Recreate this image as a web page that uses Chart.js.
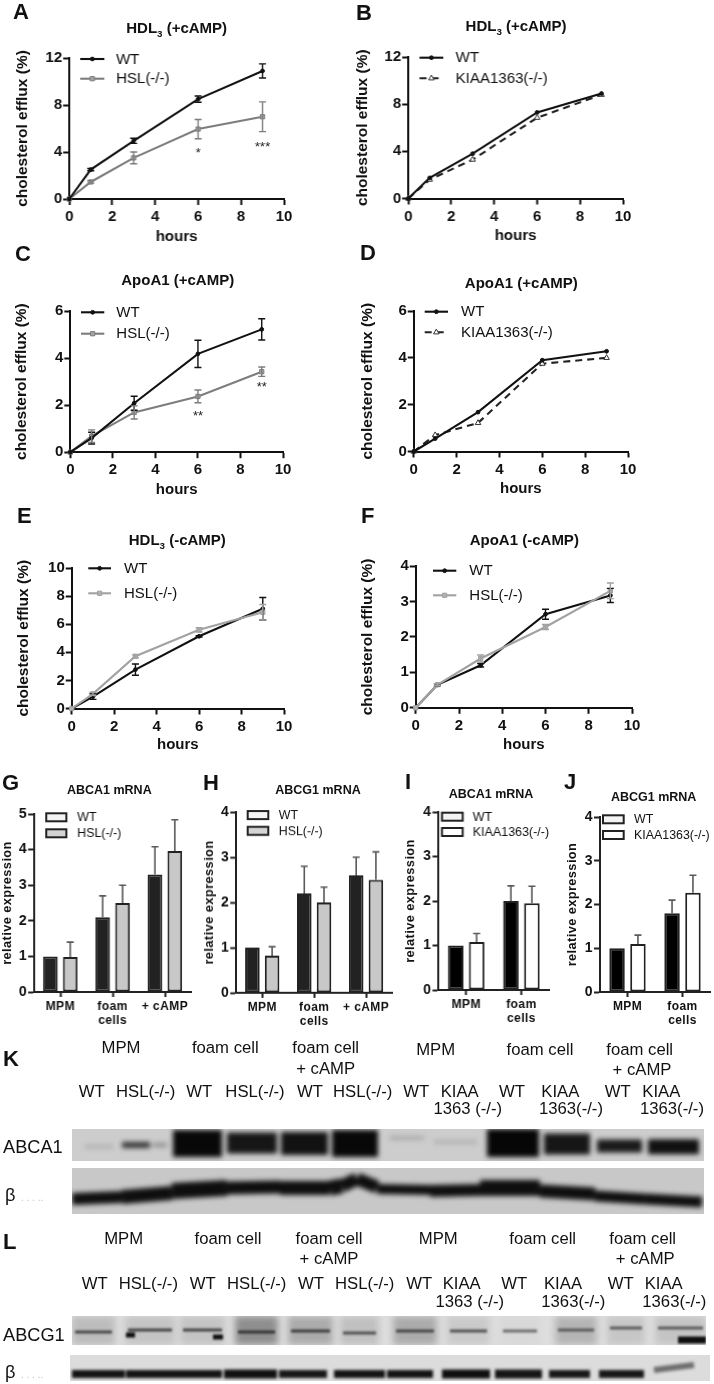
<!DOCTYPE html>
<html lang="en">
<head>
<meta charset="UTF-8">
<title>Cholesterol efflux panels</title>
<style>
  html, body { margin: 0; padding: 0; background: #fff; }
  #page { position: relative; width: 714px; height: 1384px; overflow: hidden; filter: blur(0.4px); font-family: "Liberation Sans", Arial, sans-serif; color: #111; }
  #page canvas { position: absolute; }
  .lbl { position: absolute; white-space: nowrap; transform: translate(-50%, -50%); line-height: 1; }
  .lbl.left { transform: translate(0, -50%); }
  .gel { position: absolute; overflow: hidden; }
  sub { font-size: 65%; line-height: 0; }
</style>
</head>
<body>
<div id="page"></div>
<script src="https://cdn.jsdelivr.net/npm/chart.js"></script>
<script>
var hours = [0, 1, 3, 6, 9];

// line panels
var aWT = [0, 2.5, 4.95, 8.5, 10.9],   aWTerr = [0, 0.1, 0.22, 0.27, 0.6];
var aHSL = [0, 1.45, 3.5, 5.95, 7.0],  aHSLerr = [0, 0.1, 0.5, 0.82, 1.27];
var bWT = [0, 1.75, 3.8, 7.3, 8.9];
var bKIAA = [0, 1.6, 3.3, 6.85, 8.8];
var cWT = [0, 0.6, 2.08, 4.18, 5.22],  cWTerr = [0, 0.25, 0.3, 0.58, 0.45];
var cHSL = [0, 0.68, 1.69, 2.37, 3.42], cHSLerr = [0, 0.27, 0.28, 0.27, 0.2];
var dWT = [0, 0.55, 1.68, 3.9, 4.28];
var dKIAA = [0, 0.7, 1.22, 3.75, 4.0];
var eWT = [0, 0.85, 2.77, 5.14, 7.1],  eWTerr = [0, 0.2, 0.4, 0.05, 0.8];
var eHSL = [0, 1.04, 3.72, 5.6, 6.85], eHSLerr = [0, 0.1, 0.1, 0.15, 0.55];
var fWT = [0, 0.65, 1.2, 2.64, 3.17],  fWTerr = [0, 0.03, 0.05, 0.14, 0.2];
var fHSL = [0, 0.65, 1.39, 2.28, 3.3], fHSLerr = [0, 0.03, 0.1, 0.07, 0.22];

// significance marks: [hours, efflux, text]
var aStars = [[6, 3.85, '*'], [9, 4.35, '***']];
var cStars = [[6, 1.5, '**'], [9, 2.77, '**']];

// bar panels
var cats3 = ['MPM', ['foam', 'cells'], '+ cAMP'];
var cats2 = ['MPM', ['foam', 'cells']];
var gWT = [1.0, 2.1, 3.3],   gWTerr = [0, 0.6, 0.78];
var gHSL = [0.98, 2.5, 3.96], gHSLerr = [0.42, 0.5, 0.88];
var hWT = [1.0, 2.2, 2.6],   hWTerr = [0, 0.6, 0.4];
var hHSL = [0.82, 2.0, 2.5], hHSLerr = [0.2, 0.34, 0.62];
var iWT = [1.0, 2.0],        iWTerr = [0, 0.34];
var iKIAA = [1.08, 1.95],    iKIAAerr = [0.19, 0.38];
var jWT = [1.0, 1.8],        jWTerr = [0, 0.3];
var jKIAA = [1.1, 2.27],     jKIAAerr = [0.2, 0.4];

// blots, each band: start, end, height at start, height at end, thickness, grey level
var kAbca1Start = [13, 50, 81, 101, 155, 209, 260, 318, 362, 415, 472, 525, 576];
var kAbca1End   = [41, 78, 95, 150, 205, 256, 306, 352, 405, 467, 518, 570, 627];
var kAbca1Pos   = [17.7, 16, 16, 14.5, 14, 14.5, 14.5, 9, 13, 14, 15, 17, 17.7];
var kAbca1Thick = [3, 6, 4, 27, 21, 23, 27, 3, 3, 28, 21, 13, 15];
var kAbca1Grey  = [168, 50, 140, 8, 22, 18, 8, 160, 170, 6, 22, 26, 16];

var kBetaStart = [0, 50, 100, 155, 208, 258, 270, 285, 305, 358, 408, 468, 523, 573];
var kBetaEnd   = [50, 100, 155, 208, 258, 270, 285, 305, 358, 408, 468, 523, 573, 630];
var kBetaFrom  = [31, 29, 23, 20, 20, 20, 18, 11, 21, 23, 20, 23, 28, 31];
var kBetaTo    = [29, 25, 20, 19, 20, 18, 11, 19, 22, 22, 20, 26, 31, 34];
var kBetaThick = [12, 14, 16, 13, 14, 15, 13, 13, 10, 12, 16, 13, 11, 11];

var lAbcg1LaneStart = [0, 53, 108, 163, 216, 268, 321, 375, 428, 483, 535, 583];
var lAbcg1LaneEnd   = [43, 103, 153, 206, 261, 307, 365, 418, 468, 525, 573, 634];
var lAbcg1LaneGrey  = [188, 196, 196, 142, 171, 192, 171, 202, 216, 180, 198, 196];
var lAbcg1Pos       = [16, 14, 14, 16, 15, 17, 15, 15, 15, 14, 12, 12];
var lAbcg1BandGrey  = [70, 68, 68, 50, 60, 80, 70, 80, 110, 90, 90, 90];
var lSpotStart = [54, 141, 606];
var lSpotEnd   = [63, 151, 634];
var lSpotPos   = [19, 21, 24];
var lSpotThick = [5, 5, 7];

var lBetaStart = [2, 56, 104, 154, 209, 264, 317, 372, 425, 479, 529, 584];
var lBetaEnd   = [55, 105, 152, 207, 257, 315, 363, 420, 472, 520, 574, 624];
var lBetaFrom  = [19, 19, 19, 19, 19, 19, 19, 19, 19, 19, 19, 15];
var lBetaTo    = [19, 19, 19, 19, 19, 19, 19, 19, 19, 19, 19, 10];
var lBetaThick = [8, 8, 8, 9, 8, 8, 8, 9, 9, 8, 8, 6];
var lBetaGrey  = [20, 20, 20, 16, 24, 20, 20, 14, 20, 24, 24, 110];

var page = document.getElementById('page');
var FONT = '"Liberation Sans", Arial, sans-serif';
Chart.defaults.font.family = FONT;
Chart.defaults.color = '#111';

function label(html, x, y, size, bold, left, color) {
    var d = document.createElement('div');
    d.className = left ? 'lbl left' : 'lbl';
    d.innerHTML = html;
    d.style.left = x + 'px';
    d.style.top = y + 'px';
    d.style.fontSize = size + 'px';
    if (bold) d.style.fontWeight = 'bold';
    if (color) d.style.color = color;
    page.appendChild(d);
}

function addCanvas(x, y, w, h, parent) {
    var c = document.createElement('canvas');
    c.width = w;
    c.height = h;
    c.style.left = x + 'px';
    c.style.top = y + 'px';
    c.style.width = w + 'px';
    c.style.height = h + 'px';
    (parent || page).appendChild(c);
    return c;
}

// error bars: lines go both ways, bars only up
var errBars = {
    id: 'errBars',
    afterDatasetsDraw: function (chart) {
        var ctx = chart.ctx;
        var yScale = chart.scales.y;
        chart.data.datasets.forEach(function (ds, k) {
            if (!ds.errs) return;
            var meta = chart.getDatasetMeta(k);
            var isBar = chart.config.type === 'bar';
            ctx.save();
            ctx.strokeStyle = isBar ? '#5a5a5a' : ds.borderColor;
            ctx.lineWidth = isBar ? 1.6 : 1.4;
            ds.errs.forEach(function (e, i) {
                if (!e) return;
                var v = isBar ? ds.data[i] : ds.data[i].y;
                var px = meta.data[i].x;
                var top = yScale.getPixelForValue(v + e);
                var bot = isBar ? yScale.getPixelForValue(v) : yScale.getPixelForValue(v - e);
                ctx.beginPath();
                ctx.moveTo(px, top);
                ctx.lineTo(px, bot);
                ctx.moveTo(px - 3.5, top);
                ctx.lineTo(px + 3.5, top);
                if (!isBar) {
                    ctx.moveTo(px - 3.5, bot);
                    ctx.lineTo(px + 3.5, bot);
                }
                ctx.stroke();
            });
            ctx.restore();
        });
    }
};

var legendBox = {
    id: 'legendBox',
    afterDraw: function (chart) {
        var lg = chart.options.plugins.legendBox;
        if (!lg || !lg.x0) return;
        var ctx = chart.ctx;
        var ox = chart.canvas.offsetLeft, oy = chart.canvas.offsetTop;
        ctx.save();
        ctx.letterSpacing = '0px';
        lg.names.forEach(function (name, i) {
            var y = lg.ys[i] - oy;
            var x0 = lg.x0 - ox, x1 = lg.x1 - ox;
            var ds = chart.data.datasets[i];
            if (lg.box) {
                ctx.fillStyle = lg.fills[i];
                ctx.strokeStyle = '#222';
                ctx.lineWidth = 2;
                ctx.fillRect(x0, y - 4, x1 - x0, 8);
                ctx.strokeRect(x0, y - 4, x1 - x0, 8);
            } else {
                ctx.strokeStyle = ds.borderColor;
                ctx.lineWidth = ds.borderWidth;
                ctx.setLineDash(ds.borderDash || []);
                ctx.beginPath();
                ctx.moveTo(x0, y);
                ctx.lineTo(x1, y);
                ctx.stroke();
                ctx.setLineDash([]);
                ctx.fillStyle = ds.pointBackgroundColor;
                ctx.strokeStyle = ds.pointBorderColor;
                ctx.lineWidth = ds.pointBorderWidth;
                Chart.helpers.drawPoint(ctx, { pointStyle: ds.pointStyle, radius: ds.pointRadius, borderWidth: ds.pointBorderWidth, rotation: 0 }, (x0 + x1) / 2, y);
            }
            ctx.fillStyle = '#111';
            ctx.font = lg.size + 'px ' + FONT;
            ctx.textBaseline = 'middle';
            ctx.textAlign = 'left';
            ctx.fillText(name, lg.tx - ox, y + 0.5);
        });
        ctx.restore();
    }
};

var starMarks = {
    id: 'starMarks',
    afterDatasetsDraw: function (chart) {
        var st = chart.options.plugins.starMarks;
        if (!st || !st.marks) return;
        var ctx = chart.ctx;
        ctx.save();
        ctx.fillStyle = '#222';
        ctx.font = '13px ' + FONT;
        ctx.textAlign = 'center';
        ctx.textBaseline = 'middle';
        st.marks.forEach(function (m) {
            ctx.fillText(m[2], chart.scales.x.getPixelForValue(m[0]), chart.scales.y.getPixelForValue(m[1]));
        });
        ctx.restore();
    }
};

// bar panel text is set a bit wider in the reference
var spaced = {
    id: 'spaced',
    beforeDraw: function (chart) { chart.ctx.letterSpacing = '0.4px'; }
};

function frame(p, rect) {
    return {
        left: function (s) { s.width = p.l - rect.x; },
        bottom: function (s) { s.height = rect.y + rect.h - p.b; },
        padding: { top: p.t - rect.y, right: rect.x + rect.w - p.r, left: 0, bottom: 0 }
    };
}

function pts(ys) {
    return ys.map(function (v, i) { return { x: hours[i], y: v }; });
}

var styles = {
    wt:    { color: '#111', pointStyle: 'circle', radius: 1.9, fill: '#111', edge: '#111' },
    hsl:   { color: '#7d7d7d', pointStyle: 'rect', radius: 3, fill: '#a4a4a4', edge: '#7d7d7d' },
    hslL:  { color: '#a2a2a2', pointStyle: 'rect', radius: 3, fill: '#b0b0b0', edge: '#a2a2a2' },
    kiaa:  { color: '#222', pointStyle: 'triangle', radius: 3.2, fill: '#fff', edge: '#333', dash: [7, 5] }
};

function lineSet(name, ys, errs, st, order) {
    return {
        label: name, data: pts(ys), errs: errs,
        borderColor: st.color, borderWidth: 2.1, borderDash: st.dash, tension: 0,
        pointStyle: st.pointStyle, pointRadius: st.radius,
        pointBackgroundColor: st.fill, pointBorderColor: st.edge, pointBorderWidth: 1,
        clip: false, order: order
    };
}

function linePanel(o) {
    var rect = { x: o.ty - 7.75, y: o.p.t - 14, w: o.p.r + 16 - (o.ty - 7.75), h: o.tx + 7.5 - (o.p.t - 14) };
    var f = frame(o.p, rect);
    var c = addCanvas(rect.x, rect.y, rect.w, rect.h);
    return new Chart(c, {
        type: 'line',
        data: { datasets: o.sets },
        plugins: [errBars, legendBox, starMarks],
        options: {
            responsive: false, animation: false, devicePixelRatio: 1,
            layout: { padding: f.padding },
            plugins: {
                legend: { display: false }, tooltip: { enabled: false },
                legendBox: o.legend,
                starMarks: { marks: o.stars }
            },
            scales: {
                x: {
                    type: 'linear', min: 0, max: 10, afterFit: f.bottom,
                    ticks: { stepSize: 2, padding: 3, maxRotation: 0, font: { size: 15, weight: 'bold' } },
                    grid: { drawOnChartArea: false, tickLength: 6, tickWidth: 2, tickColor: '#111' },
                    border: { color: '#111', width: 2 },
                    title: { display: true, text: 'hours', padding: 0, font: { size: 15, weight: 'bold', lineHeight: 1 } }
                },
                y: {
                    min: 0, max: o.ymax, afterFit: f.left,
                    ticks: { stepSize: o.step, padding: 1, font: { size: 15, weight: 'bold' } },
                    grid: { drawOnChartArea: false, tickLength: 6, tickWidth: 2, tickColor: '#111' },
                    border: { color: '#111', width: 2 },
                    title: { display: true, text: 'cholesterol efflux (%)', padding: 0, font: { size: 15.5, weight: 'bold', lineHeight: 1 } }
                }
            }
        }
    });
}

function barPanel(o) {
    var rect = { x: o.ty - 7, y: o.p.t - 12, w: o.p.r + 4 - (o.ty - 7), h: o.p.b + 48 - (o.p.t - 12) };
    var f = frame(o.p, rect);
    var c = addCanvas(rect.x, rect.y, rect.w, rect.h);
    var mk = function (name, vals, errs, fill) {
        return { label: name, data: vals, errs: errs, backgroundColor: fill, borderColor: '#222', borderWidth: 2, borderSkipped: false, categoryPercentage: 0.76, barPercentage: 0.74 };
    };
    return new Chart(c, {
        type: 'bar',
        data: { labels: o.cats, datasets: [mk(o.names[0], o.a, o.aErr, o.fills[0]), mk(o.names[1], o.b, o.bErr, o.fills[1])] },
        plugins: [spaced, errBars, legendBox],
        options: {
            responsive: false, animation: false, devicePixelRatio: 1,
            layout: { padding: f.padding },
            plugins: {
                legend: { display: false }, tooltip: { enabled: false },
                legendBox: { box: true, names: o.names, fills: ['#f4f4f4', o.fills[1] === '#fff' ? '#fff' : '#d4d4d4'], x0: o.lg[0], x1: o.lg[1], ys: [o.lg[2], o.lg[3]], tx: o.lg[4], size: 12.4 }
            },
            scales: {
                x: {
                    afterFit: f.bottom,
                    ticks: { padding: 3, maxRotation: 0, autoSkip: false, font: { size: 12, weight: 'bold', lineHeight: 1.16 } },
                    grid: { offset: false, drawOnChartArea: false, tickLength: 5, tickWidth: 2, tickColor: '#222' },
                    border: { color: '#222', width: 2 }
                },
                y: {
                    min: 0, max: o.ymax, afterFit: f.left,
                    ticks: { stepSize: 1, padding: 1, font: { size: 14, weight: 'bold' } },
                    grid: { drawOnChartArea: false, tickLength: 6, tickWidth: 2, tickColor: '#222' },
                    border: { color: '#222', width: 2 },
                    title: { display: true, text: 'relative expression', padding: 0, font: { size: 12.8, weight: 'bold', lineHeight: 1 } }
                }
            }
        }
    });
}

function grey(n) { return 'rgb(' + n + ',' + n + ',' + n + ')'; }

function bandSet(start, end, from, to, thick, shade) {
    return {
        data: [{ x: start, y: from }, { x: end, y: to }],
        borderWidth: thick, borderColor: grey(shade), borderCapStyle: 'butt',
        pointRadius: 0, tension: 0
    };
}

function gelLayer(parent, w, h, blur, sets) {
    var c = addCanvas(0, 0, w, h, parent);
    c.style.filter = 'blur(' + blur + 'px)';
    sets.forEach(function (s, i) { s.order = sets.length - i; });
    new Chart(c, {
        type: 'line',
        data: { datasets: sets },
        options: {
            responsive: false, animation: false, devicePixelRatio: 1,
            plugins: { legend: { display: false }, tooltip: { enabled: false } },
            layout: { padding: 0 },
            scales: {
                x: { type: 'linear', min: 0, max: w, display: false },
                y: { min: 0, max: h, reverse: true, display: false }
            }
        }
    });
}

function gelBox(x, y, w, h, bg) {
    var d = document.createElement('div');
    d.className = 'gel';
    d.style.left = x + 'px';
    d.style.top = y + 'px';
    d.style.width = w + 'px';
    d.style.height = h + 'px';
    d.style.background = bg;
    page.appendChild(d);
    return d;
}

// ---- line panels
linePanel({ p: { l: 69, r: 283.7, t: 57.7, b: 199.5 }, ty: 22.7, tx: 237, ymax: 12, step: 4,
    sets: [lineSet('WT', aWT, aWTerr, styles.wt), lineSet('HSL(-/-)', aHSL, aHSLerr, styles.hsl)], stars: aStars,
    legend: { names: ['WT', 'HSL(-/-)'], x0: 80, x1: 104, ys: [59, 78.7], tx: 115.7, size: 15 } });
linePanel({ p: { l: 408, r: 622.7, t: 56.7, b: 199 }, ty: 362.7, tx: 236, ymax: 12, step: 4,
    sets: [lineSet('WT', bWT, null, styles.wt), lineSet('KIAA1363(-/-)', bKIAA, null, styles.kiaa)],
    legend: { names: ['WT', 'KIAA1363(-/-)'], x0: 419.3, x1: 443, ys: [57.7, 78.3], tx: 455.3, size: 15 } });
linePanel({ p: { l: 70.3, r: 283, t: 310.7, b: 452.7 }, ty: 21.7, tx: 490, ymax: 6, step: 2,
    sets: [lineSet('WT', cWT, cWTerr, styles.wt), lineSet('HSL(-/-)', cHSL, cHSLerr, styles.hsl)], stars: cStars,
    legend: { names: ['WT', 'HSL(-/-)'], x0: 81, x1: 104.3, ys: [312.3, 333.7], tx: 116.3, size: 15 } });
linePanel({ p: { l: 414, r: 628.3, t: 310.7, b: 451.3 }, ty: 368, tx: 488.3, ymax: 6, step: 2,
    sets: [lineSet('WT', dWT, null, styles.wt), lineSet('KIAA1363(-/-)', dKIAA, null, styles.kiaa)],
    legend: { names: ['WT', 'KIAA1363(-/-)'], x0: 424.7, x1: 448, ys: [311.7, 332.3], tx: 461, size: 15 } });
linePanel({ p: { l: 71.3, r: 283.7, t: 568.3, b: 709 }, ty: 23.3, tx: 745, ymax: 10, step: 2,
    sets: [lineSet('WT', eWT, eWTerr, styles.wt, 1), lineSet('HSL(-/-)', eHSL, eHSLerr, styles.hslL, 0)],
    legend: { names: ['WT', 'HSL(-/-)'], x0: 88.3, x1: 111, ys: [568.3, 593.3], tx: 124, size: 15 } });
linePanel({ p: { l: 416, r: 632.3, t: 565.7, b: 708.3 }, ty: 368, tx: 745, ymax: 4, step: 1,
    sets: [lineSet('WT', fWT, fWTerr, styles.wt, 1), lineSet('HSL(-/-)', fHSL, fHSLerr, styles.hslL, 0)],
    legend: { names: ['WT', 'HSL(-/-)'], x0: 433, x1: 456.3, ys: [570.7, 595.3], tx: 469.3, size: 15 } });

// ---- bar panels
barPanel({ p: { l: 34.3, r: 190.7, t: 814, b: 992 }, ty: 8.3, ymax: 5, cats: cats3, names: ['WT', 'HSL(-/-)'],
    a: gWT, aErr: gWTerr, b: gHSL, bErr: gHSLerr, fills: ['#222', '#c8c8c8'], lg: [46, 66, 817.3, 833.3, 76.7] });
barPanel({ p: { l: 236.3, r: 392, t: 812.3, b: 993 }, ty: 210, ymax: 4, cats: cats3, names: ['WT', 'HSL(-/-)'],
    a: hWT, aErr: hWTerr, b: hHSL, bErr: hHSLerr, fills: ['#222', '#c8c8c8'], lg: [247.7, 268.3, 815, 830.7, 278.7] });
barPanel({ p: { l: 438.3, r: 548.7, t: 812, b: 990.3 }, ty: 411, ymax: 4, cats: cats2, names: ['WT', 'KIAA1363(-/-)'],
    a: iWT, aErr: iWTerr, b: iKIAA, bErr: iKIAAerr, fills: ['#000', '#fff'], lg: [441.7, 462.3, 816.7, 832, 472.3] });
barPanel({ p: { l: 600, r: 710, t: 816.7, b: 991.7 }, ty: 573, ymax: 4, cats: cats2, names: ['WT', 'KIAA1363(-/-)'],
    a: jWT, aErr: jWTerr, b: jKIAA, bErr: jKIAAerr, fills: ['#000', '#fff'], lg: [603, 623.7, 819.3, 835, 634] });

// ---- blots
gelLayer(gelBox(72, 1129, 632, 32, '#cdcdcd'), 632, 32, 2.6, kAbca1Start.map(function (s, i) {
    return bandSet(s, kAbca1End[i], kAbca1Pos[i], kAbca1Pos[i], kAbca1Thick[i], kAbca1Grey[i]);
}));
gelLayer(gelBox(72, 1168, 632, 46, '#c8c8c8'), 632, 46, 2.6, kBetaStart.map(function (s, i) {
    return bandSet(s, kBetaEnd[i], kBetaFrom[i], kBetaTo[i], kBetaThick[i], 14);
}));
var lTop = gelBox(72, 1316, 634, 29, '#dedede');
gelLayer(lTop, 634, 29, 3.5, lAbcg1LaneStart.map(function (s, i) {
    return bandSet(s, lAbcg1LaneEnd[i], 14.5, 14.5, 33, lAbcg1LaneGrey[i]);
}));
gelLayer(lTop, 634, 29, 1, lAbcg1LaneStart.map(function (s, i) {
    return bandSet(s + 3, lAbcg1LaneEnd[i] - 3, lAbcg1Pos[i], lAbcg1Pos[i], 3, lAbcg1BandGrey[i]);
}).concat(lSpotStart.map(function (s, i) {
    return bandSet(s, lSpotEnd[i], lSpotPos[i], lSpotPos[i], lSpotThick[i], 14);
})));
gelLayer(gelBox(70, 1355, 640, 26, '#dcdcdc'), 640, 26, 1.8, lBetaStart.map(function (s, i) {
    return bandSet(s, lBetaEnd[i], lBetaFrom[i], lBetaTo[i], lBetaThick[i], lBetaGrey[i]);
}));

// ---- text
[['A', 13, 12], ['B', 356, 12.7], ['C', 15, 254], ['D', 360, 253], ['E', 17, 516], ['F', 361, 516],
 ['G', 2, 783], ['H', 203, 783], ['I', 405, 782], ['J', 564, 782], ['K', 3, 1059], ['L', 3, 1242]].forEach(function (t) {
    label(t[0], t[1], t[2], 22, true, true);
});
[['HDL<sub>3</sub> (+cAMP)', 176.7, 26.5], ['HDL<sub>3</sub> (+cAMP)', 516, 25], ['ApoA1 (+cAMP)', 177.7, 279.3],
 ['ApoA1 (+cAMP)', 521.3, 281.7], ['HDL<sub>3</sub> (-cAMP)', 177.3, 538.5], ['ApoA1 (-cAMP)', 524.3, 539]].forEach(function (t) {
    label(t[0], t[1], t[2], 15, true);
});
[['ABCA1 mRNA', 109.3, 790], ['ABCG1 mRNA', 318, 790], ['ABCA1 mRNA', 491, 794], ['ABCG1 mRNA', 653.7, 796.7]].forEach(function (t) {
    label(t[0], t[1], t[2], 12.5, true);
});
[['MPM', 121, 1048], ['foam cell', 225.3, 1048], ['foam cell', 325.7, 1048], ['+ cAMP', 325.7, 1069],
 ['MPM', 435.7, 1050], ['foam cell', 540, 1050], ['foam cell', 639.7, 1050], ['+ cAMP', 642, 1070],
 ['WT', 91.7, 1092], ['HSL(-/-)', 145.7, 1092], ['WT', 199.3, 1092], ['HSL(-/-)', 255, 1092], ['WT', 310, 1092], ['HSL(-/-)', 362.7, 1092],
 ['WT', 416.3, 1092], ['KIAA', 459.7, 1092], ['1363 (-/-)', 467.7, 1109], ['WT', 512, 1092], ['KIAA', 560.3, 1092], ['1363(-/-)', 571, 1109],
 ['WT', 617.7, 1092], ['KIAA', 661.3, 1092], ['1363(-/-)', 672, 1109],
 ['MPM', 123.7, 1239], ['foam cell', 228, 1239], ['foam cell', 329, 1239], ['+ cAMP', 329, 1259],
 ['MPM', 438.3, 1239], ['foam cell', 542.7, 1239], ['foam cell', 642.7, 1239], ['+ cAMP', 645.3, 1259],
 ['WT', 94.7, 1284], ['HSL(-/-)', 148.3, 1284], ['WT', 202.7, 1284], ['HSL(-/-)', 256.7, 1284], ['WT', 311, 1284], ['HSL(-/-)', 364.7, 1284],
 ['WT', 419.3, 1284], ['KIAA', 461.7, 1284], ['1363 (-/-)', 469.7, 1301.7], ['WT', 514.3, 1284], ['KIAA', 563, 1284], ['1363(-/-)', 573.3, 1301.7],
 ['WT', 620.7, 1284], ['KIAA', 663.7, 1284], ['1363(-/-)', 674.3, 1301.7]].forEach(function (t) {
    label(t[0], t[1], t[2], 16.7, false);
});
[['ABCA1', 3, 1146.7], ['ABCG1', 3, 1335]].forEach(function (t) { label(t[0], t[1], t[2], 18.2, false, true); });
[['β', 5, 1195], ['β', 5, 1371.7]].forEach(function (t) { label(t[0], t[1], t[2], 18.2, false, true); });
[[21, 1198], [21, 1375]].forEach(function (t) { label('. . . ..', t[0], t[1], 10, false, true, '#c4c4c4'); });
</script>
</body>
</html>
